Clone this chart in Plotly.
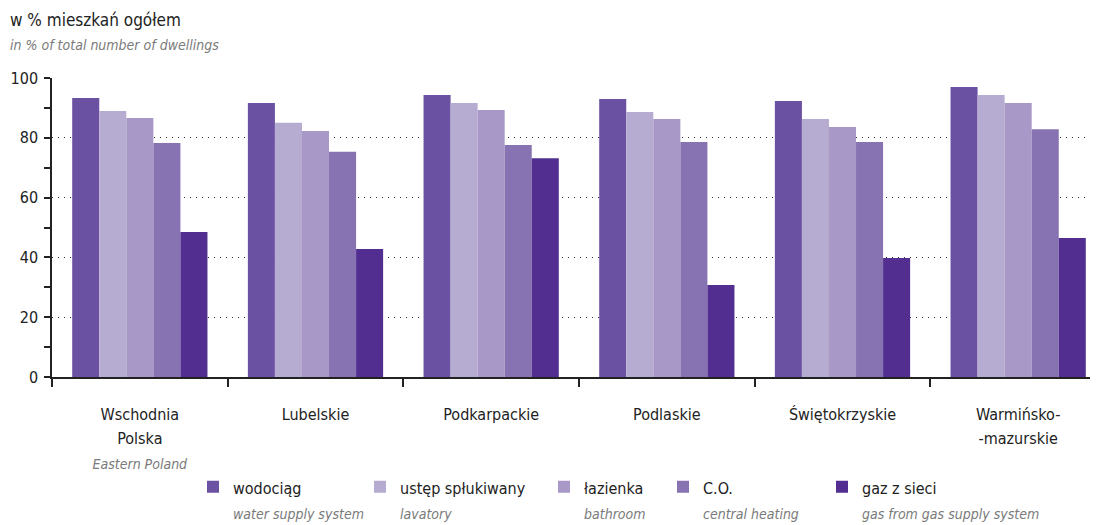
import plotly.graph_objects as go

regions = ["Wschodnia<br>Polska", "Lubelskie", "Podkarpackie", "Podlaskie",
           "Świętokrzyskie", "Warmińsko-<br>-mazurskie"]
regions_en = ["Eastern Poland", "", "", "", "", ""]

series_pl = ["wodociąg", "ustęp spłukiwany", "łazienka", "C.O.", "gaz z sieci"]
series_en = ["water supply system", "lavatory", "bathroom", "central heating",
             "gas from gas supply system"]
colors = ["#6b51a1", "#b6abd0", "#a898c7", "#8873b2", "#522e91"]

wodociag = [93.3, 91.6, 94.3, 93.0, 92.3, 97.0]
ustep = [89.0, 85.0, 91.6, 88.6, 86.3, 94.3]
lazienka = [86.6, 82.3, 89.3, 86.3, 83.6, 91.6]
co = [78.3, 75.3, 77.6, 78.6, 78.6, 82.9]
gaz = [48.5, 42.8, 73.2, 30.8, 39.8, 46.5]
values = [wodociag, ustep, lazienka, co, gaz]

FONT = "DejaVu Sans Condensed, DejaVu Sans, sans-serif"
GRAY = "#7a7a7a"
W, H = 1098, 525
L, T, B = 44, 70, 156
PAGE = 8  # body margin offset of the html page


def main(t):
    return f"<span style='font-size:16px'>{t}</span>"


def sub(t):
    return f"<span style='color:{GRAY};font-size:14px'><i>{t}</i></span>"


xlabels = []
for r, e in zip(regions, regions_en):
    lines = [main(p) for p in r.split("<br>")]
    if e:
        lines.append(sub(e))
    xlabels.append("<br>".join(lines))

# legend square left edges (page px)
legend_px = [208, 375, 559, 678, 837]
LEG_OFF = 15

fig = go.Figure()
for i, (name, en, col, vals) in enumerate(zip(series_pl, series_en, colors, values)):
    lg = "legend" if i == 0 else f"legend{i+1}"
    fig.add_trace(go.Bar(
        x=xlabels, y=vals, marker_color=col, marker_line_width=0,
        name=f"{main(name)}<br>{sub(en)}",
        legend=lg, showlegend=True,
    ))

layout_legends = {}
for i, px in enumerate(legend_px):
    key = "legend" if i == 0 else f"legend{i+1}"
    layout_legends[key] = dict(
        x=(px - PAGE - LEG_OFF) / W, y=0.124, xref="container", yref="container",
        xanchor="left", yanchor="top",
        orientation="h", valign="top", itemwidth=30,
        font=dict(family=FONT, size=19, color="#222"),
        bgcolor="rgba(0,0,0,0)",
    )

fig.update_layout(
    width=W, height=H,
    margin=dict(l=L, r=0, t=T, b=B),
    paper_bgcolor="white", plot_bgcolor="white",
    barmode="group", bargap=0.23, bargroupgap=0,
    showlegend=True,
    font=dict(family=FONT, size=16, color="#222"),
    **layout_legends,
)

fig.update_xaxes(
    range=[-0.5, 5.5], showline=True, linecolor="#222", linewidth=1.5,
    ticks="outside", tickson="boundaries", ticklen=8, tickcolor="#222",
    tickwidth=1.5, showgrid=False, ticklabelstandoff=18, automargin=False,
    tickfont=dict(family=FONT, size=19, color="#222"),
)
fig.update_yaxes(
    range=[0, 100], tickvals=[0, 20, 40, 60, 80, 100],
    showline=True, linecolor="#222", linewidth=1.5,
    ticks="outside", ticklen=6, tickcolor="#222", tickwidth=1.5,
    minor=dict(ticks="outside", ticklen=6, tickcolor="#222", tickwidth=1.5,
               dtick=10, showgrid=False),
    showgrid=True, gridcolor="#333", griddash="1px,5px", gridwidth=1.2,
    zeroline=False, ticklabelstandoff=3, automargin=False,
    tickfont=dict(family=FONT, size=16, color="#222"),
)

plot_w = W - L
plot_h = H - T - B


def px_to_paper(x, y):
    # page pixel position -> paper coordinates
    return (x - PAGE - L) / plot_w, (H - B - (y - PAGE)) / plot_h


ax, ay = px_to_paper(8, 20)
fig.add_annotation(text="w % mieszkań ogółem", x=ax, y=ay, xref="paper", yref="paper",
                   showarrow=False, xanchor="left", yanchor="middle",
                   font=dict(family=FONT, size=17, color="#222"))
ax, ay = px_to_paper(8, 45)
fig.add_annotation(text="<i>in % of total number of dwellings</i>", x=ax, y=ay,
                   xref="paper", yref="paper", showarrow=False, xanchor="left",
                   yanchor="middle", font=dict(family=FONT, size=14, color=GRAY))

fig.write_html("out.html")
